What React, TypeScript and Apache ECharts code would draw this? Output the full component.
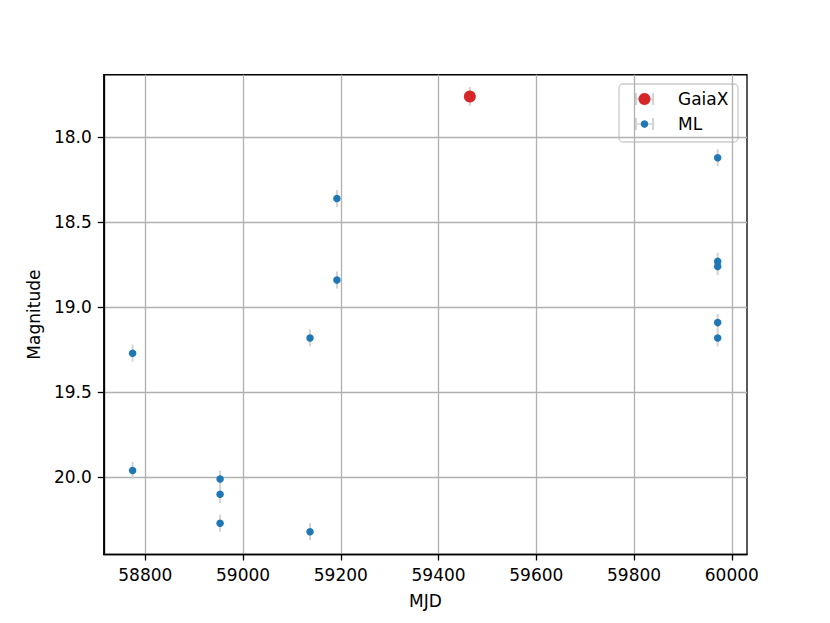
import React, { useEffect, useRef } from "react";
import * as echarts from "echarts";

// ---- data ----
const mlMjd = [58774, 58774, 58953, 58953, 58953, 59137, 59137, 59192, 59192, 59971, 59971, 59971, 59971, 59971];
const mlMag = [19.27, 19.96, 20.01, 20.1, 20.27, 19.18, 20.32, 18.36, 18.84, 18.12, 18.73, 18.76, 19.09, 19.18];
const mlErr = [0.05, 0.05, 0.05, 0.05, 0.05, 0.05, 0.05, 0.05, 0.05, 0.05, 0.05, 0.05, 0.05, 0.05];
const gaiaMjd = [59464];
const gaiaMag = [17.76];
const gaiaErr = [0.055];
const xTicks = [58800, 59000, 59200, 59400, 59600, 59800, 60000];
const yTicks = [18.0, 18.5, 19.0, 19.5, 20.0];
const seriesNames = ["GaiaX", "ML"];

const FONT = "DejaVu Sans";
const RED = "#d62728";
const BLUE = "#1f77b4";
const ERR = "#d3d3d3";

function rows(x: number[], y: number[], e: number[]) {
  return x.map((v, i) => [v, y[i], e[i]]);
}

function errRender(params: any, api: any) {
  const x = api.value(0);
  const y = api.value(1);
  const e = api.value(2);
  const p1 = api.coord([x, y - e]);
  const p2 = api.coord([x, y + e]);
  return {
    type: "line",
    shape: { x1: p1[0], y1: p1[1], x2: p2[0], y2: p2[1] },
    style: { stroke: ERR, lineWidth: 2 },
  };
}

function legendItem(y: number, color: string, size: number, label: string) {
  return [
    { type: "line", shape: { x1: 636, y1: y, x2: 653, y2: y }, style: { stroke: ERR, lineWidth: 1.5 } },
    { type: "line", shape: { x1: 636, y1: y - 6, x2: 636, y2: y + 6 }, style: { stroke: ERR, lineWidth: 2 } },
    { type: "line", shape: { x1: 653, y1: y - 6, x2: 653, y2: y + 6 }, style: { stroke: ERR, lineWidth: 2 } },
    { type: "circle", shape: { cx: 644.5, cy: y, r: size / 2 }, style: { fill: color } },
    {
      type: "text",
      x: 678,
      y: y,
      style: { text: label, font: `17px '${FONT}'`, fill: "#000", verticalAlign: "middle", align: "left" },
    },
  ];
}

export default function App() {
  const ref = useRef<HTMLDivElement>(null);
  useEffect(() => {
    document.body.style.margin = "0";
    const chart = echarts.init(ref.current!, undefined, { renderer: "svg" });
    const axisCommon = {
      axisLine: { show: true, lineStyle: { color: "#000", width: 1.3 } },
      axisTick: { show: true, length: 6, inside: false, lineStyle: { color: "#000", width: 1.3 } },
      splitLine: { show: true, lineStyle: { color: "#b0b0b0", width: 1.3 } },
      nameTextStyle: { fontFamily: FONT, fontSize: 17, color: "#000" },
    };
    chart.setOption({
      animation: false,
      backgroundColor: "#fff",
      textStyle: { fontFamily: FONT },
      grid: {
        left: 103.75,
        right: 83,
        top: 74.75,
        bottom: 68.5,
        show: true,
        borderColor: "#000",
        borderWidth: 1.3,
        backgroundColor: "transparent",
        containLabel: false,
      },
      xAxis: {
        type: "value",
        min: 58715,
        max: 60031,
        name: "MJD",
        nameLocation: "middle",
        nameGap: 38,
        ...axisCommon,
        axisTick: { ...axisCommon.axisTick, customValues: xTicks },
        axisLabel: {
          customValues: xTicks,
          fontFamily: FONT,
          fontSize: 17,
          color: "#000",
          margin: 12,
          formatter: (v: number) => String(Math.round(v)),
        },
      },
      yAxis: {
        type: "value",
        inverse: true,
        min: 17.632,
        max: 20.454,
        name: "Magnitude",
        nameLocation: "middle",
        nameGap: 61,
        nameRotate: 90,
        ...axisCommon,
        axisTick: { ...axisCommon.axisTick, customValues: yTicks },
        axisLabel: {
          customValues: yTicks,
          fontFamily: FONT,
          fontSize: 17,
          color: "#000",
          margin: 12,
          formatter: (v: number) => v.toFixed(1),
        },
      },
      series: [
        {
          type: "custom",
          name: seriesNames[0] + " err",
          renderItem: errRender,
          data: rows(gaiaMjd, gaiaMag, gaiaErr),
          encode: { x: 0, y: 1 },
          z: 2,
          silent: true,
        },
        {
          type: "custom",
          name: seriesNames[1] + " err",
          renderItem: errRender,
          data: rows(mlMjd, mlMag, mlErr),
          encode: { x: 0, y: 1 },
          z: 2,
          silent: true,
        },
        {
          type: "scatter",
          name: seriesNames[0],
          data: rows(gaiaMjd, gaiaMag, gaiaErr),
          symbolSize: 12,
          itemStyle: { color: RED, opacity: 1 },
          z: 3,
        },
        {
          type: "scatter",
          name: seriesNames[1],
          data: rows(mlMjd, mlMag, mlErr),
          symbolSize: 7.5,
          itemStyle: { color: BLUE, opacity: 1 },
          z: 3,
        },
      ],
      graphic: [
        {
          type: "group",
          z: 100,
          children: [
            {
              type: "rect",
              shape: { x: 619, y: 84, width: 119, height: 58, r: 4 },
              style: { fill: "rgba(255,255,255,0.8)", stroke: "#cccccc", lineWidth: 1.3 },
            },
            ...legendItem(99, RED, 12, seriesNames[0]),
            ...legendItem(124, BLUE, 7.5, seriesNames[1]),
          ],
        },
      ],
    });
    return () => chart.dispose();
  }, []);
  return <div ref={ref} style={{ width: 830, height: 623 }} />;
}
